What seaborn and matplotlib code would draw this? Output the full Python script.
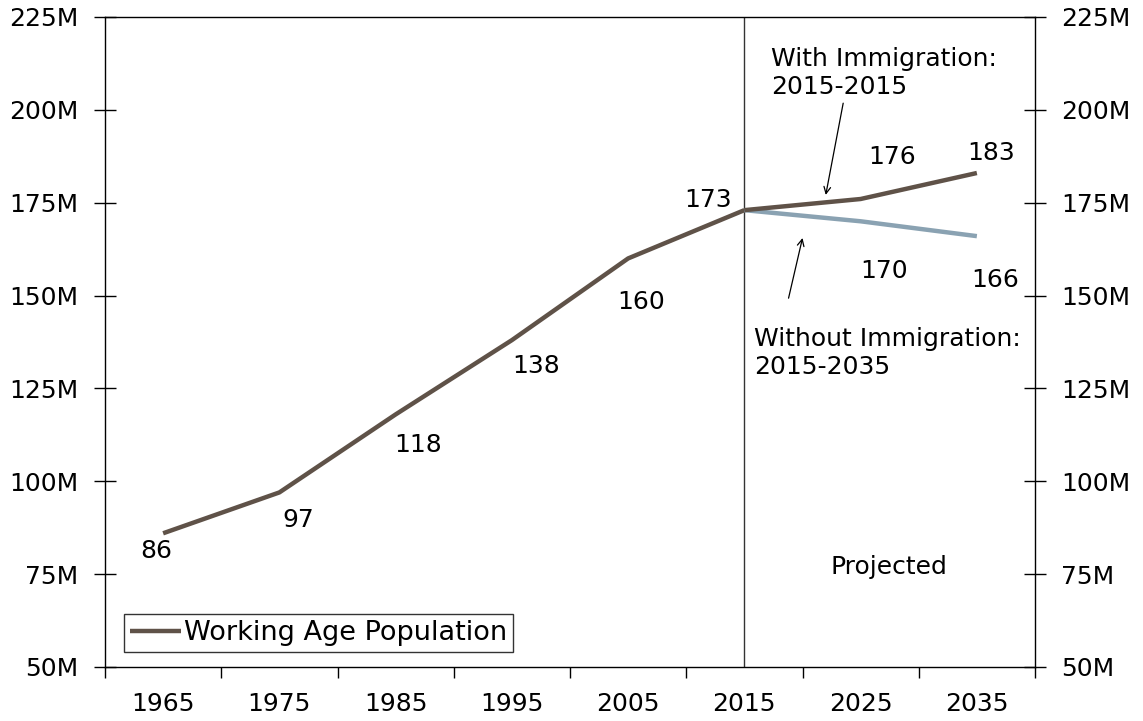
import matplotlib
matplotlib.use("Agg")
import matplotlib.pyplot as plt
from matplotlib.ticker import FixedLocator, NullFormatter
import seaborn as sns
import pandas as pd

# Historical working age population (millions)
hist_years = [1965, 1975, 1985, 1995, 2005, 2015]
hist_values = [86, 97, 118, 138, 160, 173]

# Projections from 2015
proj_years = [2015, 2025, 2035]
with_imm = [173, 176, 183]
without_imm = [173, 170, 166]

y_ticks = [50, 75, 100, 125, 150, 175, 200, 225]
x_labels = ["1965", "1975", "1985", "1995", "2005", "2015", "2025", "2035"]

brown = "#5f5248"
slate = "#8aa2b2"

sns.set_theme(style="white")
plt.rcParams["font.family"] = ["DejaVu Sans"]
plt.rcParams["text.color"] = "black"

hist_df = pd.DataFrame({"year": hist_years, "pop": hist_values})
with_df = pd.DataFrame({"year": proj_years, "pop": with_imm})
without_df = pd.DataFrame({"year": proj_years, "pop": without_imm})

fig = plt.figure(figsize=(11.43, 7.21), dpi=100)
ax = fig.add_axes([105 / 1143, 1 - 667 / 721, 930 / 1143, 650 / 721])

sns.lineplot(data=hist_df, x="year", y="pop", ax=ax, color=brown, lw=3.2,
             label="Working Age Population", solid_capstyle="butt")
sns.lineplot(data=without_df, x="year", y="pop", ax=ax, color=slate, lw=3.2,
             solid_capstyle="butt")
sns.lineplot(data=with_df, x="year", y="pop", ax=ax, color=brown, lw=3.2,
             solid_capstyle="butt")

ax.axvline(2015, color="#333333", lw=1.0, zorder=1)

ax.set_xlim(1960, 2040)
ax.set_ylim(50, 225)
ax.set_xlabel("")
ax.set_ylabel("")

# Category-style x axis: tick marks at decade boundaries, labels in between
ax.xaxis.set_major_locator(FixedLocator(list(range(1960, 2041, 10))))
ax.xaxis.set_major_formatter(NullFormatter())
ax.xaxis.set_minor_locator(FixedLocator([int(s) for s in x_labels]))
ax.set_xticklabels(x_labels, minor=True)
ax.tick_params(axis="x", which="major", direction="out", length=8, width=1,
               color="black", bottom=True)
ax.tick_params(axis="x", which="minor", length=0, labelsize=18, pad=18,
               labelcolor="black")

ax.set_yticks(y_ticks)
ax.set_yticklabels([f"{v}M" for v in y_ticks])
ax.tick_params(axis="y", direction="inout", length=16, width=1, color="black",
               labelsize=18, pad=11, left=True, right=True,
               labelleft=True, labelright=True, labelcolor="black")

for side in ["left", "right", "top", "bottom"]:
    ax.spines[side].set_visible(True)
    ax.spines[side].set_color("black")
    ax.spines[side].set_linewidth(1.0)
ax.grid(False)

# Value labels
lbl = dict(fontsize=18, ha="center", va="center", color="black")
hist_pos = [(1964.4, 81.2), (1976.6, 89.6), (1986.9, 109.8), (1997.1, 131.0),
            (2006.1, 148.3), (2011.9, 175.7)]
for (x, y), v in zip(hist_pos, hist_values):
    ax.text(x, y, str(v), **lbl)
for (x, y), v in zip([(2027.7, 187.3), (2036.2, 188.4)], with_imm[1:]):
    ax.text(x, y, str(v), **lbl)
for (x, y), v in zip([(2027.0, 156.6), (2036.6, 154.2)], without_imm[1:]):
    ax.text(x, y, str(v), **lbl)

ax.text(2027.4, 76.9, "Projected", fontsize=18, ha="center", va="center")

# Scenario callouts
arrow = dict(arrowstyle="->", color="black", lw=0.9, shrinkA=0, shrinkB=0)
ax.annotate("", xy=(2022.0, 177.1), xytext=(2023.5, 201.8), arrowprops=arrow)
ax.text(2017.3, 209.9, "With Immigration:\n2015-2015", fontsize=18,
        ha="left", va="center", linespacing=1.2)

ax.annotate("", xy=(2020.0, 165.5), xytext=(2018.8, 149.3), arrowprops=arrow)
ax.text(2015.8, 134.5, "Without Immigration:\n2015-2035", fontsize=18,
        ha="left", va="center", linespacing=1.2)

leg = ax.legend(loc="lower left", bbox_to_anchor=(19 / 930, 15 / 650),
                fontsize=19.5, frameon=True, fancybox=False, handlelength=1.9,
                handletextpad=0.1, borderpad=0.22, borderaxespad=0,
                labelcolor="black")
leg.get_frame().set_edgecolor("black")
leg.get_frame().set_linewidth(1.0)

fig.savefig("out.png", dpi=100)
